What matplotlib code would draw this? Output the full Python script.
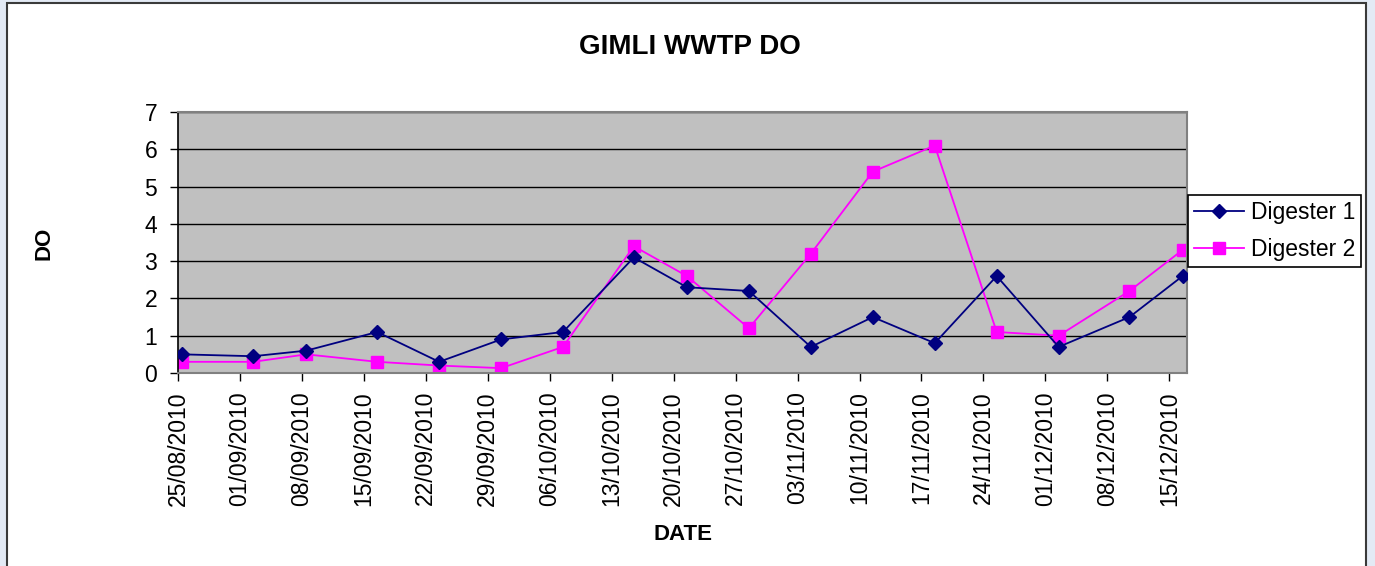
import matplotlib
matplotlib.use("Agg")
import matplotlib.pyplot as plt
import matplotlib.dates as mdates
from matplotlib.patches import Rectangle
import numpy as np

plt.rcParams['font.family'] = ['Liberation Sans', 'DejaVu Sans']

# ---- data ----
dates = ["2010-08-25", "2010-09-02", "2010-09-08", "2010-09-16", "2010-09-23",
         "2010-09-30", "2010-10-07", "2010-10-15", "2010-10-21", "2010-10-28",
         "2010-11-04", "2010-11-11", "2010-11-18", "2010-11-25", "2010-12-02",
         "2010-12-10", "2010-12-16"]
digester1 = [0.5, 0.45, 0.6, 1.1, 0.3, 0.9, 1.1, 3.1, 2.3, 2.2,
             0.7, 1.5, 0.8, 2.6, 0.7, 1.5, 2.6]
digester2 = [0.3, 0.3, 0.5, 0.3, 0.2, 0.13, 0.7, 3.4, 2.6, 1.2,
             3.2, 5.4, 6.1, 1.1, 1.0, 2.2, 3.3]
series_names = ["Digester 1", "Digester 2"]
tick_dates = ["2010-08-25", "2010-09-01", "2010-09-08", "2010-09-15", "2010-09-22",
              "2010-09-29", "2010-10-06", "2010-10-13", "2010-10-20", "2010-10-27",
              "2010-11-03", "2010-11-10", "2010-11-17", "2010-11-24", "2010-12-01",
              "2010-12-08", "2010-12-15"]
title = "GIMLI WWTP DO"
xlabel = "DATE"
ylabel = "DO"

# points sit in the middle of each day slot (Excel date axis)
x = np.array(dates, dtype="datetime64[D]") + np.timedelta64(12, "h")
xt = np.array(tick_dates, dtype="datetime64[D]")

fig = plt.figure(figsize=(13.75, 5.66), dpi=100)
fig.patch.set_facecolor("#e3eaf5")
W, H = 1375, 566
frame = Rectangle((7 / W, -0.05), (1366 - 7) / W, 1.05 - 3 / H,
                  transform=fig.transFigure, facecolor="white",
                  edgecolor="#3a3a3a", linewidth=1.5, zorder=-10)
fig.patches.append(frame)

ax = fig.add_axes([178 / W, 1 - 373 / H, (1187 - 178) / W, (373 - 112) / H])
ax.set_zorder(1)
ax.set_facecolor("#c0c0c0")

ax.plot(x, digester1, color="#000080", marker="D", markersize=7,
        linewidth=1.3, label=series_names[0], zorder=3)
ax.plot(x, digester2, color="#ff00ff", marker="s", markersize=8.5,
        linewidth=1.3, label=series_names[1], zorder=2)

ax.set_xlim(np.datetime64("2010-08-25"), np.datetime64("2010-12-17"))
ax.set_ylim(0, 7)
ax.set_yticks(range(0, 8))
ax.set_xticks(xt)
ax.xaxis.set_major_formatter(mdates.DateFormatter("%d/%m/%Y"))
ax.tick_params(axis="x", labelrotation=90, labelsize=16.5, direction="out",
               length=6, width=1, pad=7, colors="black")
ax.tick_params(axis="y", labelsize=16.5, direction="out", length=6, width=1,
               pad=9, colors="black")
ax.yaxis.grid(True, color="black", linewidth=1)
ax.set_axisbelow(True)
for s in ["top", "right", "bottom"]:
    ax.spines[s].set_color("#808080")
    ax.spines[s].set_linewidth(1.5)
ax.spines["left"].set_color("black")
ax.spines["left"].set_linewidth(1.2)

fig.text(690 / W, 1 - 47 / H, title, ha="center", va="center",
         fontsize=20, fontweight="bold")
fig.text(683 / W, 1 - 534 / H, xlabel, ha="center", va="center",
         fontsize=16, fontweight="bold")
fig.text(44 / W, 1 - 243 / H, ylabel, ha="center", va="center",
         fontsize=16, fontweight="bold", rotation=90)

leg = fig.legend(loc="center left", bbox_to_anchor=(1188 / W, 1 - 231 / H),
                 fontsize=16.5, frameon=True, fancybox=False, framealpha=1,
                 edgecolor="black", borderpad=0.25, labelspacing=0.6,
                 handlelength=2.2, handletextpad=0.3, borderaxespad=0)
leg.get_frame().set_linewidth(1.2)
leg.set_zorder(5)

fig.savefig("out.png", dpi=100, facecolor=fig.get_facecolor())
